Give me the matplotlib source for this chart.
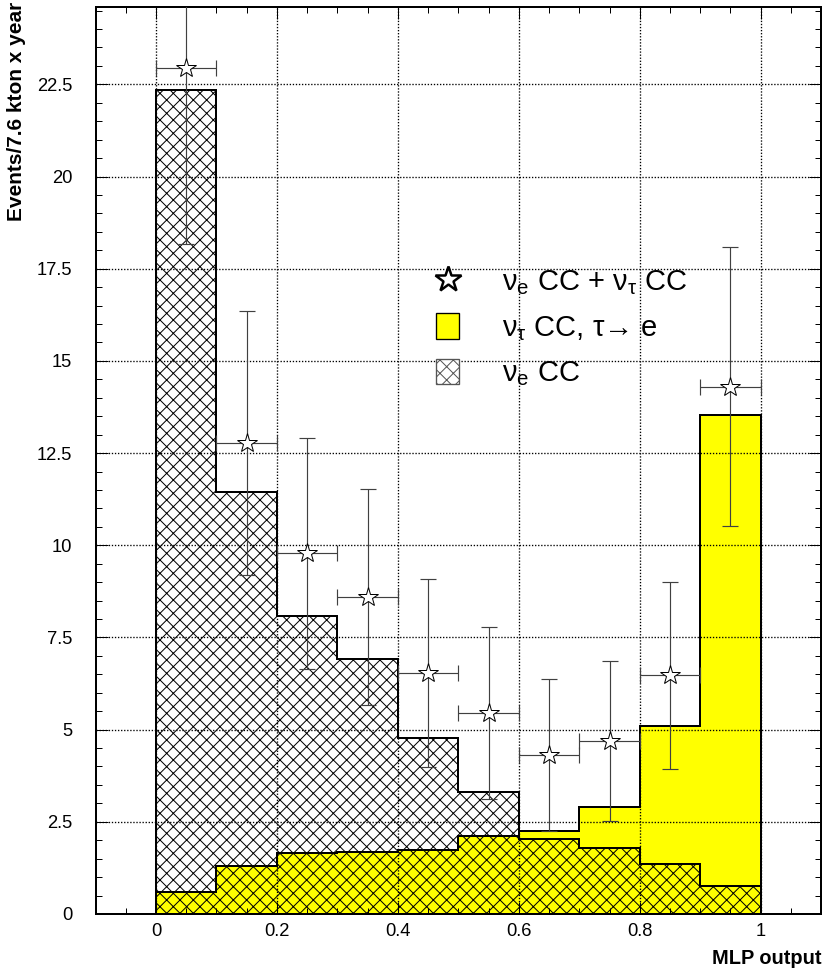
import matplotlib
matplotlib.use("Agg")
import matplotlib.pyplot as plt
import numpy as np
from matplotlib.lines import Line2D
from matplotlib.patches import Patch
from matplotlib.ticker import MultipleLocator, FormatStrFormatter

plt.rcParams['font.family'] = ['Liberation Sans', 'DejaVu Sans']
plt.rcParams['hatch.linewidth'] = 0.6

# MLP output binning
bin_edges = [0.0, 0.1, 0.2, 0.3, 0.4, 0.5, 0.6, 0.7, 0.8, 0.9, 1.0]

# expected events per bin (7.6 kton x year)
nue_cc = [22.34, 11.44, 8.08, 6.92, 4.76, 3.32, 2.03, 1.79, 1.36, 0.76]
nutau_cc = [0.59, 1.30, 1.66, 1.68, 1.74, 2.12, 2.26, 2.89, 5.10, 13.53]

# nu_e CC + nu_tau CC points with errors
points_x = [0.05, 0.15, 0.25, 0.35, 0.45, 0.55, 0.65, 0.75, 0.85, 0.95]
points_y = [22.95, 12.78, 9.78, 8.59, 6.53, 5.44, 4.31, 4.70, 6.47, 14.30]
points_err = [4.79, 3.58, 3.13, 2.93, 2.55, 2.33, 2.07, 2.17, 2.54, 3.78]

x_ticks = [0, 0.2, 0.4, 0.6, 0.8, 1.0]
y_ticks = [0, 2.5, 5, 7.5, 10, 12.5, 15, 17.5, 20, 22.5]

labels = [
    r'$\mathregular{\nu_e}$ CC + $\mathregular{\nu_\tau}$ CC',
    r'$\mathregular{\nu_\tau}$ CC, τ→ e',
    r'$\mathregular{\nu_e}$ CC',
]

DPI = 120
fig = plt.figure(figsize=(825 / DPI, 975 / DPI), dpi=DPI)
ax = fig.add_axes([0.1158, 0.0626, 0.8796, 0.9303])

# yellow nu_tau first, hatched nu_e overlaid on top
ax.stairs(nutau_cc, bin_edges, fill=True, facecolor='#ffff00',
          edgecolor='black', linewidth=1.2, zorder=1)
ax.stairs(nue_cc, bin_edges, fill=True, facecolor='none',
          edgecolor='black', hatch='xxx', linewidth=1.2, zorder=1.1)

half_w = np.diff(bin_edges) / 2
ax.errorbar(points_x, points_y, yerr=points_err, xerr=half_w, fmt='none',
            ecolor='#404040', elinewidth=0.7, capsize=5, capthick=0.7, zorder=3)
ax.plot(points_x, points_y, ls='none', marker='*', ms=12, mfc='white',
        mec='black', mew=0.6, zorder=4)

ax.set_xlim(-0.1, 1.1)
ax.set_ylim(0, 24.6)
ax.set_xticks(x_ticks)
ax.set_yticks(y_ticks)
ax.xaxis.set_minor_locator(MultipleLocator(0.05))
ax.yaxis.set_minor_locator(MultipleLocator(0.5))
ax.xaxis.set_major_formatter(FormatStrFormatter('%g'))
ax.yaxis.set_major_formatter(FormatStrFormatter('%g'))
ax.tick_params(which='both', direction='in', top=True, right=True,
               width=0.6, labelsize=11)
ax.tick_params(which='major', length=7)
ax.tick_params(which='minor', length=3.6)
ax.tick_params(axis='y', pad=14)
ax.tick_params(axis='x', pad=5.5)
for sp in ax.spines.values():
    sp.set_linewidth(1.2)

ax.set_axisbelow(False)
ax.grid(True, which='major', color='black', linestyle=(0, (1, 1.3)),
        linewidth=0.8)

fig.text(17 / 825, 1 - 2 / 975, 'Events/7.6 kton x year', rotation=90,
         ha='center', va='top', fontweight='bold', fontsize=12.5)
fig.text(822 / 825, 1 - 959 / 975, 'MLP output', ha='right', va='center',
         fontweight='bold', fontsize=12)

handles = [
    Line2D([], [], ls='none', marker='*', ms=16, mfc='white', mec='black', mew=1.5),
    Patch(facecolor='#ffff00', edgecolor='black', linewidth=0.8),
    Patch(facecolor='white', edgecolor='#555555', hatch='xxx', linewidth=0.8),
]
ax.legend(handles, labels, loc='upper left', bbox_to_anchor=(436 / 825, 1 - 268 / 975),
          bbox_transform=fig.transFigure, frameon=False, fontsize=17.5,
          handlelength=0.8, handleheight=0.95, handletextpad=1.45,
          labelspacing=0.55, borderpad=0, borderaxespad=0)

fig.savefig('out.png', dpi=DPI)
